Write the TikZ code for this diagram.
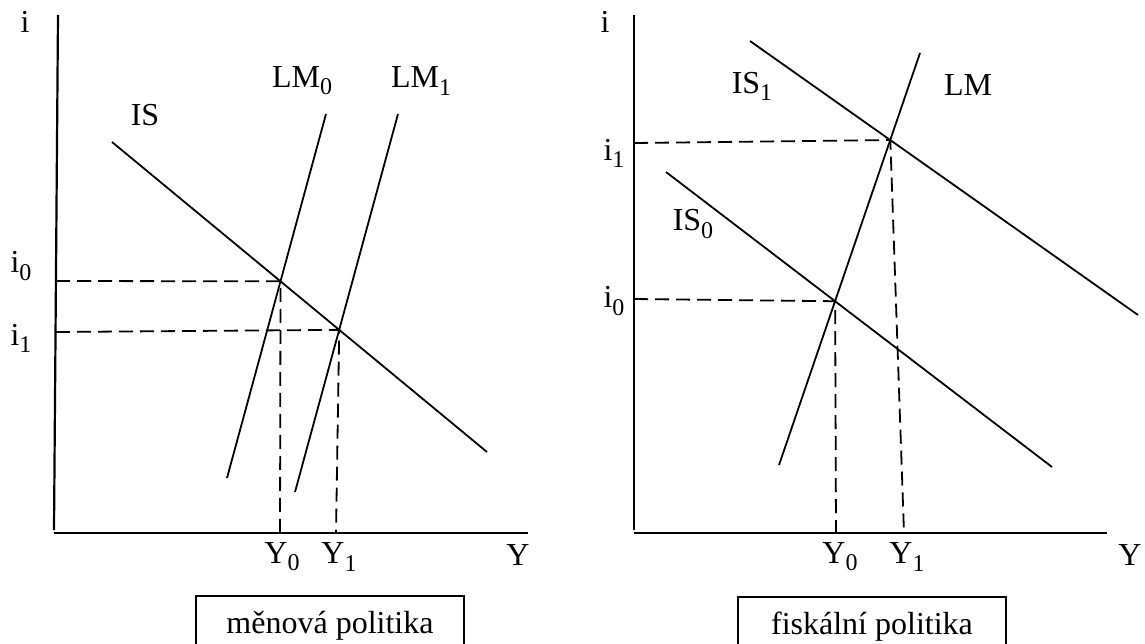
\documentclass[tikz,border=0pt]{standalone}
\usepackage{fontspec}
\setmainfont{Liberation Serif}
\newcommand{\sbs}[1]{\raisebox{-0.22em}{\fontsize{24}{28}\selectfont #1}}
\begin{document}
\begin{tikzpicture}[x=1pt,y=-1pt,
  lbl/.style={inner sep=0pt,font=\fontsize{32}{38}\selectfont},
  axis/.style={line width=2.2pt},
  curve/.style={line width=1.8pt},
  guide/.style={line width=1.8pt,dash pattern=on 14pt off 7pt},
  capbox/.style={draw,line width=1.8pt,minimum width=268pt,minimum height=60pt,anchor=north,inner sep=0pt,font=\fontsize{32}{38}\selectfont}]
\useasboundingbox (0,0) rectangle (1145,643);
\clip (0,0) rectangle (1145,643);
% ---------- left panel ----------
\coordinate (La1) at (58,15);
\coordinate (La2) at (54,530);
\coordinate (Lx1) at (54,533);
\coordinate (Lx2) at (528,533);
\draw[axis] (La1) -- (La2);
\draw[axis] (Lx1) -- (Lx2);
\coordinate (ISa) at (112,142);
\coordinate (ISb) at (487,452);
\coordinate (LM0a) at (326,114);
\coordinate (LM0b) at (227,478);
\coordinate (LM1a) at (398,114);
\coordinate (LM1b) at (295,492);
\draw[curve] (ISa) -- (ISb);
\draw[curve] (LM0a) -- (LM0b);
\draw[curve] (LM1a) -- (LM1b);
\coordinate (E0) at (intersection of ISa--ISb and LM0a--LM0b);
\coordinate (E1) at (intersection of ISa--ISb and LM1a--LM1b);
\coordinate (Li0) at (56,281);
\coordinate (Li1) at (56,332);
\coordinate (LY0) at (280,533);
\coordinate (LY1) at (336,533);
\draw[guide] (Li0) -- (E0) -- (LY0);
\draw[guide] (Li1) -- (E1) -- (LY1);
\node[lbl] (Li) at (25,22) {i};
\node[lbl] (Li0l) at (21,266) {i\sbs{0}};
\node[lbl] (Li1l) at (21,338) {i\sbs{1}};
\node[lbl] (LIS) at (145,115) {IS};
\node[lbl] (LLM0) at (302,81) {LM\sbs{0}};
\node[lbl] (LLM1) at (421,81) {LM\sbs{1}};
\node[lbl] (LY0l) at (282,557) {Y\sbs{0}};
\node[lbl] (LY1l) at (339,557) {Y\sbs{1}};
\node[lbl] (LYl) at (518,555) {Y};
\node[capbox] (Lbox) at (330,595) {měnová politika};
% ---------- right panel ----------
\coordinate (Ra1) at (634,15);
\coordinate (Ra2) at (634,530);
\coordinate (Rx1) at (634,533);
\coordinate (Rx2) at (1107,533);
\draw[axis] (Ra1) -- (Ra2);
\draw[axis] (Rx1) -- (Rx2);
\coordinate (IS1a) at (750,41);
\coordinate (IS1b) at (1138,315);
\coordinate (IS0a) at (666,172);
\coordinate (IS0b) at (1052,467);
\coordinate (LMa) at (920,53);
\coordinate (LMb) at (779,465);
\draw[curve] (IS1a) -- (IS1b);
\draw[curve] (IS0a) -- (IS0b);
\draw[curve] (LMa) -- (LMb);
\coordinate (F0) at (intersection of IS0a--IS0b and LMa--LMb);
\coordinate (F1) at (intersection of IS1a--IS1b and LMa--LMb);
\coordinate (Ri0) at (634,299);
\coordinate (Ri1) at (634,143);
\coordinate (RY0) at (836,533);
\coordinate (RY1) at (904,533);
\draw[guide] (Ri0) -- (F0) -- (RY0);
\draw[guide] (Ri1) -- (F1) -- (RY1);
\node[lbl] (Ri) at (605,22) {i};
\node[lbl] (Ri1l) at (614,153) {i\sbs{1}};
\node[lbl] (Ri0l) at (614,301) {i\sbs{0}};
\node[lbl] (RIS0) at (693,224) {IS\sbs{0}};
\node[lbl] (RIS1) at (752,86) {IS\sbs{1}};
\node[lbl] (RLM) at (968,85) {LM};
\node[lbl] (RY0l) at (840,557) {Y\sbs{0}};
\node[lbl] (RY1l) at (907,557) {Y\sbs{1}};
\node[lbl] (RYl) at (1130,555) {Y};
\node[capbox] (Rbox) at (872,596) {fiskální politika};
\end{tikzpicture}
\end{document}
